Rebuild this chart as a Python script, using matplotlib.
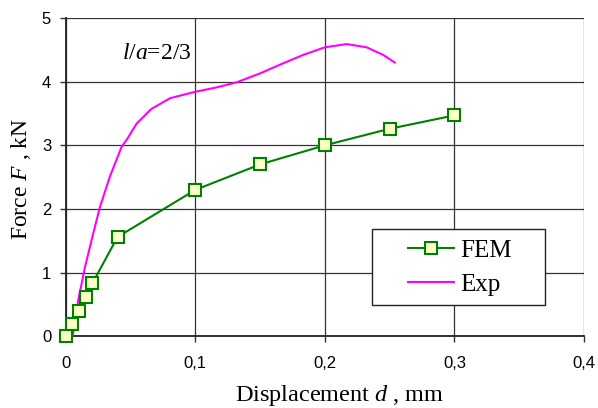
import matplotlib
matplotlib.use("Agg")
import matplotlib.pyplot as plt
from matplotlib.ticker import FuncFormatter
from matplotlib.patches import Rectangle

plt.rcParams["font.family"] = ["Liberation Sans", "DejaVu Sans"]
plt.rcParams["mathtext.fontset"] = "custom"
plt.rcParams["mathtext.rm"] = "Liberation Serif"
plt.rcParams["mathtext.it"] = "Liberation Serif:italic"

fem_x = [0.0, 0.005, 0.0105, 0.0154, 0.0205, 0.04, 0.1, 0.15, 0.2, 0.25, 0.3]
fem_y = [0.0, 0.19, 0.40, 0.62, 0.83, 1.56, 2.30, 2.70, 3.00, 3.26, 3.47]

exp_x = [0.0054, 0.0097, 0.0149, 0.0213, 0.0264, 0.0341, 0.0432, 0.0475, 0.0547, 0.0660,
         0.0805, 0.0998, 0.1165, 0.132, 0.150, 0.168, 0.1833, 0.2001, 0.2168,
         0.2322, 0.245, 0.254]
exp_y = [0.0, 0.57, 1.09, 1.62, 2.03, 2.51, 2.98, 3.10, 3.34, 3.57,
         3.74, 3.84, 3.91, 3.99, 4.13, 4.29, 4.42, 4.54, 4.59,
         4.54, 4.42, 4.30]

xticks = [0.0, 0.1, 0.2, 0.3, 0.4]
yticks = [0, 1, 2, 3, 4, 5]

fig = plt.figure(figsize=(5.98, 4.08), dpi=100)
ax = fig.add_axes([0.1099, 0.1757, 0.8667, 0.7802])

ax.set_xlim(0, 0.4)
ax.set_ylim(0, 5)
ax.set_xticks(xticks)
ax.set_yticks(yticks)
ax.xaxis.set_major_formatter(FuncFormatter(lambda v, p: ("%g" % round(v, 2)).replace(".", ",")))
ax.grid(True, color="#333333", linewidth=0.9)
ax.set_axisbelow(True)
for s in ["top", "right"]:
    ax.spines[s].set_visible(False)
for s in ["left", "bottom"]:
    ax.spines[s].set_color("#222222")
    ax.spines[s].set_linewidth(1.3)
ax.tick_params(direction="out", length=4.5, width=1, color="#333333", labelsize=12)
ax.tick_params(axis="x", pad=10)
ax.tick_params(axis="y", pad=6)

ax.plot(exp_x, exp_y, color="#FF00FF", linewidth=1.5, label="Exp", zorder=3)
ax.plot(fem_x, fem_y, color="#008000", linewidth=1.5, marker="s", markersize=9,
        markerfacecolor="#FFFFC8", markeredgecolor="#008000", markeredgewidth=1.5,
        label="FEM", zorder=4, clip_on=False)

frame = Rectangle((0.591, 0.098), 0.334, 0.239, transform=ax.transAxes,
                  facecolor="white", edgecolor="#222222", linewidth=1.0, zorder=4.5)
ax.add_patch(frame)

h, l = ax.get_legend_handles_labels()
leg = ax.legend([h[1], h[0]], [l[1], l[0]], loc="center left",
                bbox_to_anchor=(0.660, 0.216), frameon=False,
                prop={"family": "Liberation Serif", "size": 18},
                borderpad=0, handlelength=1.85, handletextpad=0.25,
                labelspacing=0.45, borderaxespad=0)
leg.set_zorder(5)

ax.text(0.0432, 4.45, r"$l$/$a$=2/3", transform=ax.transData, fontsize=17,
        family="Liberation Serif", va="center", ha="left")

ax.set_xlabel(r"Displacement $d$ , mm", family="Liberation Serif", fontsize=17.5)
ax.set_ylabel(r"Force $F$ , kN", family="Liberation Serif", fontsize=17)
ax.xaxis.set_label_coords(0.529, -0.148)
ax.yaxis.set_label_coords(-0.063, 0.494)

fig.savefig("out.png", dpi=100)
